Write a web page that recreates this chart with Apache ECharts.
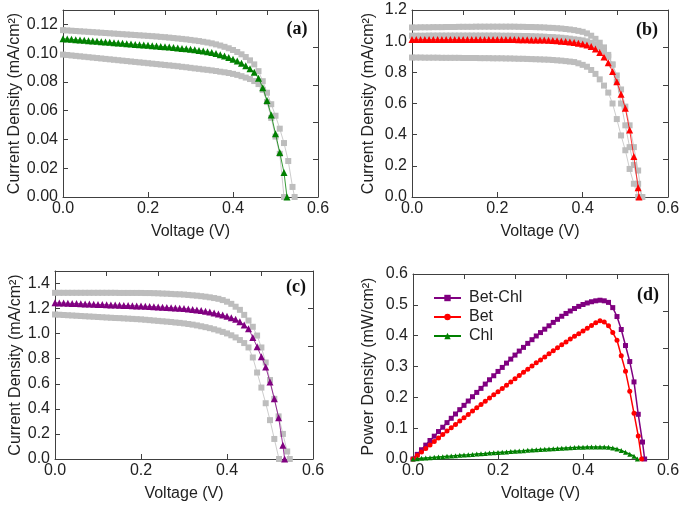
<!DOCTYPE html>
<html><head><meta charset="utf-8">
<script src="https://cdn.jsdelivr.net/npm/echarts@6/dist/echarts.min.js"></script>
<style>html,body{margin:0;padding:0;background:#fff}#c{width:685px;height:505px}</style>
</head><body><div id="c"></div>
<script>
// Voltage grid (V)
const voltage = [0.00,0.01,0.02,0.03,0.04,0.05,0.06,0.07,0.08,0.09,
 0.10,0.11,0.12,0.13,0.14,0.15,0.16,0.17,0.18,0.19,
 0.20,0.21,0.22,0.23,0.24,0.25,0.26,0.27,0.28,0.29,
 0.30,0.31,0.32,0.33,0.34,0.35,0.36,0.37,0.38,0.39,
 0.40,0.41,0.42,0.43,0.44,0.45,0.46,0.47,0.48,0.49,
 0.50,0.51,0.52,0.53,0.54];

// (a) current density, mA/cm2
const aUpper = [0.1160,0.1158,0.1156,0.1154,0.1152,0.1150,0.1148,0.1146,0.1144,0.1142,
 0.1140,0.1138,0.1136,0.1134,0.1132,0.1130,0.1128,0.1126,0.1124,0.1122,
 0.1120,0.1118,0.1116,0.1113,0.1111,0.1108,0.1105,0.1102,0.1099,0.1096,
 0.1092,0.1088,0.1084,0.1079,0.1074,0.1068,0.1061,0.1053,0.1044,0.1034,
 0.1022,0.1008,0.0992,0.0973,0.0950,0.0922,0.0875,0.0805,0.0725,0.0645,
 0.0565,0.0475,0.0375,0.0250,0.0070];
const aChl = [0.1100,0.1098,0.1096,0.1093,0.1091,0.1089,0.1087,0.1084,0.1082,0.1080,
 0.1077,0.1075,0.1073,0.1070,0.1068,0.1066,0.1063,0.1061,0.1059,0.1057,
 0.1055,0.1052,0.1050,0.1047,0.1045,0.1042,0.1039,0.1036,0.1033,0.1030,
 0.1027,0.1023,0.1019,0.1015,0.1010,0.1004,0.0997,0.0989,0.0980,0.0970,
 0.0958,0.0945,0.0930,0.0912,0.0892,0.0868,0.0825,0.0760,0.0670,0.0570,
 0.0440,0.0310,0.0170];
const aLower = [0.0990,0.0987,0.0984,0.0981,0.0978,0.0975,0.0972,0.0969,0.0966,0.0963,
 0.0960,0.0957,0.0954,0.0951,0.0948,0.0945,0.0942,0.0939,0.0936,0.0933,
 0.0930,0.0927,0.0924,0.0921,0.0918,0.0915,0.0912,0.0909,0.0905,0.0902,
 0.0898,0.0894,0.0891,0.0887,0.0884,0.0880,0.0876,0.0871,0.0867,0.0862,
 0.0856,0.0849,0.0840,0.0830,0.0820,0.0806,0.0785,0.0745,0.0660,0.0550,
 0.0420,0.0300];
const aVoc = [0.545, 0.527, 0.520];

// (b)
const bUpper = [1.088,1.088,1.089,1.089,1.089,1.090,1.090,1.090,1.091,1.091,
 1.091,1.092,1.092,1.092,1.092,1.093,1.093,1.093,1.093,1.093,
 1.093,1.093,1.093,1.093,1.093,1.092,1.092,1.091,1.091,1.090,
 1.089,1.088,1.086,1.085,1.083,1.081,1.078,1.075,1.071,1.066,
 1.060,1.050,1.035,1.015,0.990,0.960,0.912,0.850,0.740,0.600,
 0.460,0.320,0.205,0.085];
const bMid = [1.035,1.035,1.035,1.035,1.036,1.036,1.036,1.036,1.036,1.036,
 1.036,1.036,1.036,1.036,1.036,1.036,1.036,1.036,1.036,1.036,
 1.036,1.035,1.035,1.035,1.034,1.034,1.033,1.033,1.032,1.031,
 1.030,1.029,1.027,1.026,1.024,1.022,1.019,1.016,1.012,1.009,
 1.005,0.999,0.990,0.978,0.960,0.935,0.900,0.850,0.780,0.690,
 0.580,0.460,0.320,0.170];
const bBet = [1.010,1.010,1.010,1.010,1.010,1.010,1.010,1.010,1.010,1.010,
 1.010,1.010,1.010,1.010,1.010,1.010,1.010,1.010,1.010,1.010,
 1.010,1.010,1.010,1.010,1.010,1.009,1.009,1.009,1.008,1.008,
 1.008,1.007,1.006,1.005,1.003,1.000,0.998,0.995,0.992,0.987,
 0.982,0.975,0.965,0.950,0.928,0.898,0.862,0.805,0.740,0.660,
 0.570,0.430,0.260,0.060];
const bLower = [0.895,0.895,0.895,0.894,0.894,0.894,0.894,0.893,0.893,0.893,
 0.893,0.893,0.892,0.892,0.892,0.892,0.891,0.891,0.891,0.890,
 0.890,0.890,0.889,0.889,0.888,0.887,0.887,0.886,0.885,0.884,
 0.883,0.882,0.881,0.879,0.877,0.875,0.872,0.869,0.866,0.858,
 0.848,0.836,0.815,0.790,0.755,0.715,0.670,0.600,0.500,0.395,
 0.300,0.180,0.085];
const bVoc = [0.540, 0.538, 0.532, 0.530];

// (c)
const cUpper = [1.326,1.326,1.326,1.326,1.326,1.326,1.326,1.326,1.326,1.326,
 1.326,1.326,1.326,1.326,1.326,1.325,1.325,1.325,1.325,1.325,
 1.325,1.324,1.324,1.323,1.322,1.320,1.319,1.317,1.315,1.314,
 1.312,1.309,1.306,1.303,1.299,1.295,1.290,1.284,1.278,1.268,
 1.255,1.238,1.215,1.190,1.150,1.105,1.055,0.985,0.890,0.770,
 0.630,0.480,0.340,0.200,0.060];
const cBetChl = [1.246,1.245,1.244,1.243,1.241,1.240,1.239,1.237,1.236,1.234,
 1.233,1.232,1.230,1.229,1.228,1.227,1.225,1.224,1.223,1.221,
 1.220,1.218,1.217,1.215,1.213,1.211,1.209,1.207,1.205,1.203,
 1.200,1.197,1.193,1.189,1.184,1.178,1.172,1.165,1.157,1.148,
 1.138,1.127,1.115,1.095,1.070,1.040,0.970,0.895,0.816,0.735,
 0.615,0.480,0.330,0.110];
const cLower = [1.153,1.151,1.149,1.147,1.145,1.143,1.141,1.139,1.137,1.135,
 1.133,1.131,1.129,1.127,1.125,1.124,1.122,1.120,1.118,1.116,
 1.114,1.111,1.108,1.105,1.102,1.099,1.096,1.093,1.089,1.086,
 1.082,1.077,1.072,1.066,1.059,1.052,1.044,1.035,1.025,1.014,
 1.002,0.987,0.970,0.949,0.925,0.890,0.810,0.690,0.570,0.445,
 0.310,0.160];
const cVoc = [0.546, 0.534, 0.521];

// (d) power density, mW/cm2
const dBetChl = [0.000,0.015,0.030,0.045,0.060,0.074,0.089,0.103,0.118,0.132,
 0.146,0.160,0.174,0.188,0.202,0.216,0.229,0.243,0.257,0.270,
 0.284,0.297,0.311,0.324,0.337,0.350,0.362,0.375,0.387,0.399,
 0.410,0.421,0.432,0.443,0.453,0.463,0.472,0.480,0.488,0.495,
 0.501,0.506,0.510,0.513,0.515,0.513,0.508,0.491,0.462,0.420,
 0.368,0.316,0.250,0.145,0.055];
const dBet = [0.000,0.0115,0.023,0.0344,0.0458,0.057,0.0683,0.0795,0.0906,0.1017,
 0.112,0.1229,0.1337,0.1445,0.1553,0.1659,0.1766,0.1872,0.1978,0.2083,
 0.218,0.2287,0.2392,0.2497,0.2602,0.2705,0.281,0.2913,0.3016,0.3118,
 0.321,0.331,0.341,0.3508,0.3606,0.3703,0.3798,0.389,0.398,0.4065,
 0.415,0.424,0.433,0.442,0.448,0.444,0.432,0.410,0.385,0.335,
 0.285,0.220,0.148,0.075];
const dChl = [0.0000,0.0011,0.0022,0.0033,0.0044,0.0054,0.0065,0.0076,0.0087,0.0097,
 0.0108,0.0118,0.0129,0.0139,0.0150,0.0160,0.0170,0.0180,0.0191,0.0201,
 0.0211,0.0221,0.0231,0.0241,0.0251,0.0261,0.0270,0.0280,0.0289,0.0299,
 0.0308,0.0317,0.0326,0.0335,0.0343,0.0351,0.0359,0.0366,0.0372,0.0378,
 0.0383,0.0388,0.0391,0.0392,0.0392,0.0390,0.0380,0.0357,0.0322,0.0279,
 0.0220,0.0158,0.0088];
const dVoc = [0.545, 0.538, 0.528];

const legendNames = ['Bet-Chl', 'Bet', 'Chl'];
const panelLabels = ['(a)', '(b)', '(c)', '(d)'];

const FONT = '"Liberation Sans", Arial, sans-serif';
const GRAY = '#bdbdbd', GREEN = '#008000', RED = '#ff0000', PURPLE = '#800080';

function pts(arr, voc) {
  const d = arr.map((v, i) => [voltage[i], v]);
  d.push([voc, 0]);
  return d;
}

const grids = [
  {left: 63, top: 10, width: 255, height: 187},
  {left: 412, top: 10, width: 256, height: 187},
  {left: 55, top: 271, width: 258, height: 188},
  {left: 413, top: 274, width: 255, height: 185}
];
const yMax = [0.13, 1.2, 1.5, 0.6];
const yInt = [0.02, 0.2, 0.2, 0.1];
const yDec = [2, 1, 1, 1];
const yShowMax = [false, true, false, true];
const yNames = ['Current Density (mA/cm²)', 'Current Density (mA/cm²)', 'Current Density (mA/cm²)', 'Power Density (mW/cm²)'];
const yNameGaps = [39, 35, 31, 36];

const lineC = {color: '#404040', width: 1};
const xAxes = [], yAxes = [];
grids.forEach((g, i) => {
  xAxes.push({
    gridIndex: i, type: 'value', min: 0, max: 0.6, interval: 0.2, position: 'bottom',
    name: 'Voltage (V)', nameLocation: 'middle', nameGap: 27,
    nameTextStyle: {fontSize: 16, fontFamily: FONT, color: '#222'},
    axisLine: {show: true, onZero: false, lineStyle: lineC},
    axisTick: {show: true, inside: true, length: 5, lineStyle: lineC},
    axisLabel: {fontSize: 16, fontFamily: FONT, color: '#222', margin: 4, formatter: v => v.toFixed(1)},
    splitLine: {show: false}
  });
  xAxes.push({
    gridIndex: i, type: 'value', min: 0, max: 0.6, interval: 0.12, position: 'top',
    axisLine: {show: true, onZero: false, lineStyle: lineC},
    axisTick: {show: true, inside: true, length: 5, lineStyle: lineC},
    axisLabel: {show: false}, splitLine: {show: false}
  });
  yAxes.push({
    gridIndex: i, type: 'value', min: 0, max: yMax[i], interval: yInt[i], position: 'left',
    name: yNames[i], nameLocation: 'middle', nameGap: yNameGaps[i], nameRotate: 90,
    nameTextStyle: {fontSize: 16, fontFamily: FONT, color: '#222'},
    axisLine: {show: true, onZero: false, lineStyle: lineC},
    axisTick: {show: true, inside: true, length: 5, lineStyle: lineC},
    axisLabel: {fontSize: 16, fontFamily: FONT, color: '#222', margin: 5, showMaxLabel: yShowMax[i],
      formatter: v => v.toFixed(yDec[i])},
    splitLine: {show: false}
  });
  yAxes.push({
    gridIndex: i, type: 'value', min: 0, max: yMax[i], interval: yMax[i] / 5, position: 'right',
    axisLine: {show: true, onZero: false, lineStyle: lineC},
    axisTick: {show: true, inside: true, length: 5, lineStyle: lineC},
    axisLabel: {show: false}, splitLine: {show: false}
  });
});

function grayS(i, name, arr, voc) {
  return {name, type: 'line', xAxisIndex: 2 * i, yAxisIndex: 2 * i, data: pts(arr, voc),
    symbol: 'rect', symbolSize: 6, itemStyle: {color: GRAY},
    lineStyle: {color: '#aaaaaa', width: 0.6}, z: 2};
}
function colS(i, name, arr, voc, color, symbol, size, lw) {
  return {name, type: 'line', xAxisIndex: 2 * i, yAxisIndex: 2 * i, data: pts(arr, voc),
    symbol, symbolSize: size, itemStyle: {color},
    lineStyle: {color, width: lw}, z: 3};
}

const series = [
  grayS(0, 'a1', aUpper, aVoc[0]),
  grayS(0, 'a3', aLower, aVoc[2]),
  colS(0, 'a2', aChl, aVoc[1], GREEN, 'triangle', 7, 0.8),
  grayS(1, 'b1', bUpper, bVoc[0]),
  grayS(1, 'b2', bMid, bVoc[1]),
  grayS(1, 'b4', bLower, bVoc[3]),
  colS(1, 'b3', bBet, bVoc[2], RED, 'triangle', 7, 0.8),
  grayS(2, 'c1', cUpper, cVoc[0]),
  grayS(2, 'c3', cLower, cVoc[2]),
  colS(2, 'c2', cBetChl, cVoc[1], PURPLE, 'triangle', 7, 0.8),
  colS(3, legendNames[0], dBetChl, dVoc[0], PURPLE, 'rect', 5, 1.5),
  colS(3, legendNames[1], dBet, dVoc[1], RED, 'circle', 5, 1.5),
  colS(3, legendNames[2], dChl, dVoc[2], GREEN, 'triangle', 5, 1.5)
];

const labelPos = [[297, 29], [647, 30], [296, 287], [648, 295]];
const graphic = panelLabels.map((t, i) => ({
  type: 'text', x: labelPos[i][0], y: labelPos[i][1], z: 10,
  style: {text: t, font: 'bold 18px "Liberation Serif", "Times New Roman", serif', fill: '#111',
    align: 'center', verticalAlign: 'middle', textAlign: 'center', textVerticalAlign: 'middle'}
}));

const chart = echarts.init(document.getElementById('c'), null, {renderer: 'canvas'});
chart.setOption({
  animation: false,
  backgroundColor: '#fff',
  grid: grids,
  xAxis: xAxes,
  yAxis: yAxes,
  legend: {
    data: legendNames, orient: 'vertical', left: 428, top: 285,
    itemWidth: 27, itemHeight: 8, itemGap: 3,
    textStyle: {fontSize: 16, fontFamily: FONT, color: '#222', padding: [0, 0, 0, 3]}
  },
  graphic,
  series
});
</script></body></html>
